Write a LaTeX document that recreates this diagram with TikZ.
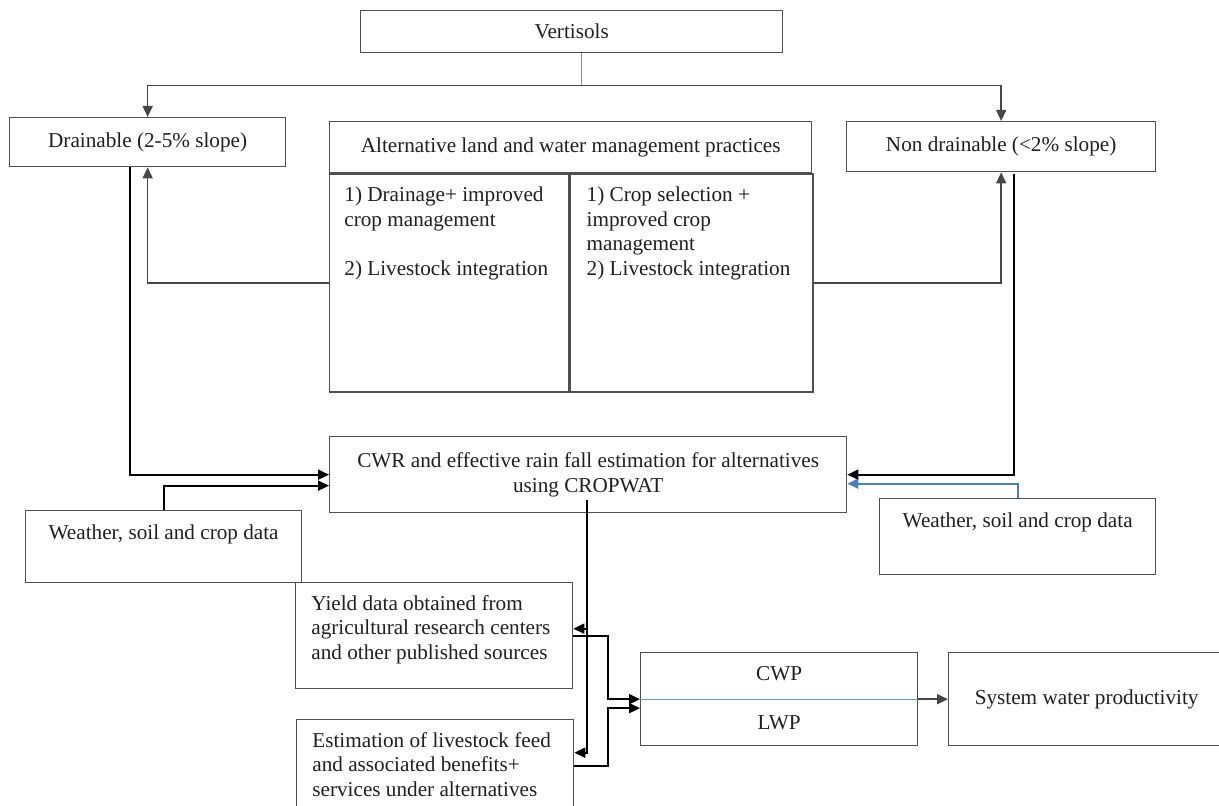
\documentclass[tikz,border=0pt]{standalone}
\usepackage{fontspec}
\setmainfont{Liberation Serif}
\usetikzlibrary{arrows.meta, positioning, calc}

\definecolor{linkblue}{RGB}{74,126,193}
\definecolor{lightblue}{RGB}{96,150,212}
\definecolor{boxgray}{RGB}{80,80,80}

\begin{document}
\begin{tikzpicture}[x=0.5pt, y=-0.5pt,
  every node/.style={font=\fontsize{10.6}{12.3}\selectfont, text=black!88},
  box/.style={draw=boxgray, line width=0.65pt, rectangle, anchor=north west, inner sep=0pt},
  cell/.style={anchor=north west, align=left, inner sep=0pt},
  arr/.style={-{Triangle[length=5.5pt,width=5pt]}, line width=0.75pt, draw=black!72},
  darr/.style={-{Triangle[length=5.5pt,width=5pt]}, line width=1pt, draw=black},
  barr/.style={-{Triangle[length=5.5pt,width=5pt]}, line width=1pt, draw=linkblue}]
\clip (0,0) rectangle (1219,806);

% Vertisols
\node (vert) [box, minimum width=211pt, minimum height=21pt] at (360,10) {Vertisols};

% Drainable and non drainable land
\node (drain) [box, minimum width=138pt, minimum height=24.5pt] at (9,117) {Drainable (2-5\% slope)};
\node (nondrain) [box, minimum width=154.5pt, minimum height=25pt] at (846,121) {Non drainable (<2\% slope)};

% Alternative practices
\node (althead) [box, minimum width=241pt, minimum height=25.5pt, anchor=north west] at (329,121) {Alternative land and water management practices};
\node (altleft) [box, minimum width=119.5pt, minimum height=109pt, below right=0pt and 0pt of althead.south west] {};
\node (altright) [box, minimum width=121.5pt, minimum height=109pt] at (altleft.north east) {};
\node (altlefttext) [cell] at ($(altleft.north west)+(15,13)$) {1) Drainage+ improved\\crop management\\[12.3pt]2) Livestock integration};
\node (altrighttext) [cell] at ($(altright.north west)+(17,13)$) {1) Crop selection +\\improved crop\\management\\2) Livestock integration};

% CROPWAT estimation
\node (cwr) [box, minimum width=258.5pt, minimum height=38pt, align=center] at (329,436) {CWR and effective rain fall estimation for alternatives\\using CROPWAT};

% Weather data
\node (wleft) [box, minimum width=138pt, minimum height=36pt] at (25,510) {};
\node[below=4pt of wleft.north] (wlefttext) {Weather, soil and crop data};
\node (wright) [box, minimum width=138pt, minimum height=38pt] at (879,498) {};
\node[below=4pt of wright.north] (wrighttext) {Weather, soil and crop data};

% Yield and livestock data
\node (yield) [box, minimum width=138.5pt, minimum height=53pt] at (295,582) {};
\node (yieldtext) [cell] at ($(yield.north west)+(16,13)$) {Yield data obtained from\\agricultural research centers\\and other published sources};
\node (est) [box, minimum width=138.5pt, minimum height=46pt] at (296,719) {};
\node (esttext) [cell] at ($(est.north west)+(16,13)$) {Estimation of livestock feed\\and associated benefits+\\services under alternatives};

% Water productivity
\node (cwp) [box, minimum width=138.5pt, minimum height=46.5pt] at (640,652) {};
\node (cwplab) at ($(cwp.center)+(0,-26)$) {CWP};
\node (lwplab) at ($(cwp.center)+(0,24)$) {LWP};
\node (swp) [box, minimum width=138pt, minimum height=46.5pt] at (948,652) {System water productivity};

% Connections
\coordinate (split) at ($(vert.south)+(10,32)$);
\draw[lightblue, line width=0.6pt] (vert.south -| split) -- (split);
\draw[arr] (split) -| (drain.north);
\draw[arr] (split) -| (nondrain.north);
\draw[arr] (altleft.west) -| (drain.south);
\draw[arr] (altright.east) -| (nondrain.south);

\draw[darr] ($(drain.south)+(-18,0)$) |- (cwr.west);
\draw[darr] ($(nondrain.south)+(12.5,2)$) |- (cwr.east);
\draw[darr] (wleft.north) |- ($(cwr.west)+(0,11)$);
\draw[barr] (wright.north) |- ($(cwr.east)+(0,9)$);

\coordinate (cwrout) at ($(cwr.south)+(-1,-13)$);
\draw[darr] (cwrout) |- ($(yield.east)+(0,-7)$);
\draw[darr] (cwrout) |- ($(est.east)+(0,-13)$);
\draw[darr] (yield.east) -- ++(35,0) |- (cwp.west);
\draw[darr] (est.east) -- ++(34,0) |- ($(cwp.west)+(0,9)$);

\draw[lightblue, line width=0.6pt] (cwp.west) -- (cwp.east);
\draw[arr] (cwp.east) -- (swp.west);
\end{tikzpicture}
\end{document}
